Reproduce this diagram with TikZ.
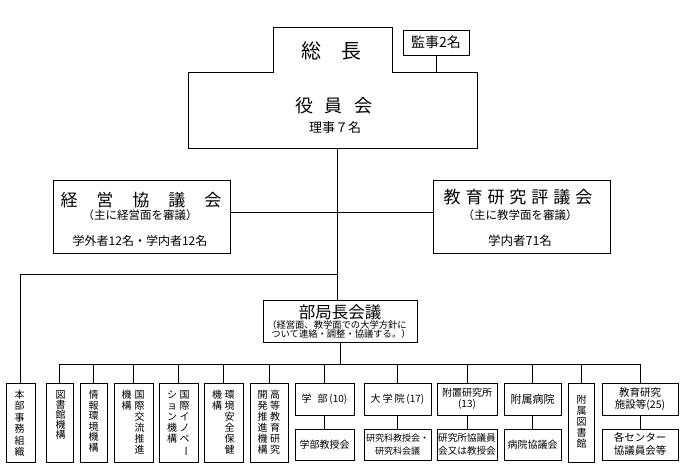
\documentclass[tikz,border=0pt]{standalone}
\usepackage{fontspec}
\usepackage{graphicx}
\setmainfont{Noto Sans CJK JP}
\newcommand\vbar{\rotatebox[origin=c]{-90}{ー}}
\begin{document}
\begin{tikzpicture}[x=1pt,y=-1pt,line width=0.8pt,
  frame/.style={draw,rectangle,inner sep=0pt,outer sep=0pt},
  txt/.style={inner sep=0pt,outer sep=0pt,align=center},
  vt/.style={inner sep=0pt,outer sep=0pt,align=center,anchor=north,font=\fontsize{10}{11}\selectfont},
  sm/.style={txt,font=\fontsize{10}{13.5}\selectfont}]
\useasboundingbox[fill=white] (0,0) rectangle (683,464);

% top composite
\node[inner sep=0pt,outer sep=0pt,minimum width=119pt,minimum height=45pt] (sochou) at (332.5,49.5) {};
\node[inner sep=0pt,outer sep=0pt,minimum width=289pt,minimum height=76pt] (yakuin) at (332.5,110) {};
\draw (yakuin.north west) -- (sochou.south west) -- (sochou.north west) -- (sochou.north east)
  -- (sochou.south east) -- (yakuin.north east) -- (yakuin.south east) -- (yakuin.south west) -- cycle;
\node[txt,font=\fontsize{20}{22}\selectfont] (sochouT) at (331,51) {総\hspace{20pt}長};
\node[txt,font=\fontsize{18}{20}\selectfont] (yakuinT) at (334,106) {役\hspace{12pt}員\hspace{12pt}会};
\node[txt,font=\fontsize{13}{15}\selectfont] (riji) at (335,128) {理事７名};

\node[frame,minimum width=66pt,minimum height=25pt,font=\fontsize{14}{16}\selectfont] (kanji) at (436,42.5) {監事2名};
\draw (kanji.south) -- (kanji.south |- yakuin.north);

% councils
\node[frame,minimum width=177pt,minimum height=73pt] (keiei) at (141.5,216.5) {};
\node[txt,font=\fontsize{17}{19}\selectfont] (keieiT) at (141,200) {経\hspace{19pt}営\hspace{19pt}協\hspace{19pt}議\hspace{19pt}会};
\node[txt,font=\fontsize{11.5}{12}\selectfont] (keieiS) at (140,215) {（主に経営面を審議）};
\node[txt,font=\fontsize{12}{14}\selectfont] (keieiM) at (140,241) {学外者12名・学内者12名};

\node[frame,minimum width=177pt,minimum height=73pt] (kyouiku) at (521.5,216.5) {};
\node[txt,font=\fontsize{17}{19}\selectfont] (kyouikuT) at (518,197) {教\hspace{5pt}育\hspace{5pt}研\hspace{5pt}究\hspace{5pt}評\hspace{5pt}議\hspace{5pt}会};
\node[txt,font=\fontsize{11.5}{12}\selectfont] (kyouikuS) at (520,215) {（主に教学面を審議）};
\node[txt,font=\fontsize{12.5}{14}\selectfont] (kyouikuM) at (520,241) {学内者71名};

\coordinate (hy) at (0,212.5);
\draw (keiei.east |- hy) -- (kyouiku.west |- hy);

% bukyoku
\node[frame,minimum width=154pt,minimum height=42pt] (bukyoku) at (340,321) {};
\node[txt,font=\fontsize{16.5}{18}\selectfont] (bukyokuT) at (340,312.5) {部局長会議};
\node[txt,font=\fontsize{9.3}{10}\selectfont] (bukyokuA) at (337,324.5) {（経営面、教学面での大学方針に};
\node[txt,font=\fontsize{9.3}{10}\selectfont] (bukyokuB) at (341,334) {ついて連絡・調整・協議する。）};

\coordinate (tk) at (337,0);
\draw (yakuin.south -| tk) -- (bukyoku.north -| tk);

% bottom vertical boxes
\node[frame,minimum width=29pt,minimum height=79pt] (honbu) at (20.5,422.5) {};
\node[vt,font=\fontsize{10}{11.5}\selectfont] at (19.5,390) {本\\部\\事\\務\\組\\織};
\node[frame,minimum width=27pt,minimum height=79pt] (tosho) at (59.5,422.5) {};
\node[vt,font=\fontsize{10}{10}\selectfont] at (60.5,390.5) {図\\書\\館\\機\\構};
\node[frame,minimum width=27pt,minimum height=79pt] (jouhou) at (93.5,422.5) {};
\node[vt,font=\fontsize{10}{10.5}\selectfont] at (93.5,390.5) {情\\報\\環\\境\\機\\構};
\node[frame,minimum width=39pt,minimum height=79pt] (kokusai) at (133.5,422.5) {};
\node[vt] at (139.5,390.5) {国\\際\\交\\流\\推\\進};
\node[vt] at (126.5,390.5) {機\\構};
\node[frame,minimum width=39pt,minimum height=79pt] (inov) at (178.5,422.5) {};
\node[vt] at (184.5,390.5) {国\\際\\イ\\ノ\\ベ\\\vbar};
\node[vt] at (172,390.5) {シ\\ョ\\ン\\機\\構};
\node[frame,minimum width=39pt,minimum height=79pt] (kankyo) at (223.5,422.5) {};
\node[vt] at (229.5,390.5) {環\\境\\安\\全\\保\\健};
\node[vt] at (217,390.5) {機\\構};
\node[frame,minimum width=38pt,minimum height=79pt] (koutou) at (269,422.5) {};
\node[vt] at (275,390.5) {高\\等\\教\\育\\研\\究};
\node[vt] at (262.5,390.5) {開\\発\\推\\進\\機\\構};
\node[frame,minimum width=26pt,minimum height=79pt] (fuzokuT) at (581,422.5) {};
\node[vt] at (581.5,395) {附\\属\\図\\書\\館};

% bottom upper boxes
\node[frame,minimum width=59pt,minimum height=32pt,sm] (gakubu) at (324.5,399) {学\hspace{6pt}部\,(10)};
\node[frame,minimum width=67pt,minimum height=32pt,sm] (daigakuin) at (397.5,399) {大\hspace{2pt}学\hspace{2pt}院\,(17)};
\node[frame,minimum width=60pt,minimum height=32pt,sm,font=\fontsize{10}{11.5}\selectfont] (fuchi) at (467,399) {附置研究所\\(13)};
\node[frame,minimum width=57pt,minimum height=32pt,sm,font=\fontsize{11}{13}\selectfont] (byouin) at (532.5,399) {附属病院};
\node[frame,minimum width=76pt,minimum height=32pt,sm,font=\fontsize{10.5}{12}\selectfont] (kenkyuS) at (640,399) {教育研究\\施設等(25)};

% bottom lower boxes
\node[frame,minimum width=59pt,minimum height=31pt,sm] (gakubuL) at (324.5,444.5) {学部教授会};
\node[frame,minimum width=67pt,minimum height=31pt,sm,font=\fontsize{9}{13.5}\selectfont] (daigakuinL) at (397.5,444.5) {研究科教授会・\\研究科会議};
\node[frame,minimum width=60pt,minimum height=31pt,sm,font=\fontsize{9.6}{13.5}\selectfont] (fuchiL) at (467,444.5) {研究所協議員\\会又は教授会};
\node[frame,minimum width=57pt,minimum height=31pt,sm] (byouinL) at (532.5,444.5) {病院協議会};
\node[frame,minimum width=76pt,minimum height=31pt,sm,font=\fontsize{10.5}{13}\selectfont] (kenkyuSL) at (640,444.5) {各センター\\協議員会等};

\foreach \a/\b in {gakubu/gakubuL,daigakuin/daigakuinL,fuchi/fuchiL,byouin/byouinL,kenkyuS/kenkyuSL}
  \draw (\a.south) -- (\b.north);

% bus
\coordinate (bus) at (0,364);
\coordinate (lb) at (0,274);
\draw (lb -| tk) -| (honbu.north);
\draw (bukyoku.south) -- (bukyoku.south |- bus);
\draw (tosho.north |- bus) -- (kenkyuS.north |- bus);
\foreach \n in {tosho,jouhou,kokusai,inov,kankyo,koutou,gakubu,daigakuin,fuchi,byouin,fuzokuT,kenkyuS}
  \draw (\n.north |- bus) -- (\n.north);
\end{tikzpicture}
\end{document}
